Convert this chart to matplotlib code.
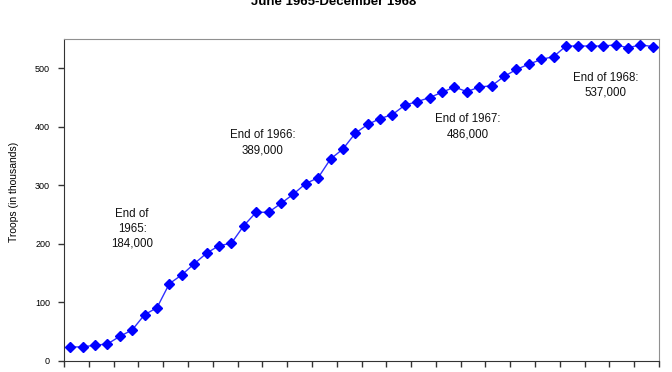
import numpy as np
import matplotlib.pyplot as plt

plt.rcParams['font.family'] = ['Liberation Sans', 'DejaVu Sans']

# monthly troop levels, Jan 1965 - Dec 1968 (thousands)
troops = [24, 24, 27, 29, 42, 53, 79, 91, 132, 147, 166, 184,
          197, 201, 231, 254, 254, 269, 285, 303, 313, 345, 362, 389,
          404, 414, 421, 437, 443, 450, 459, 468, 460, 468, 470, 486,
          498, 507, 515, 520, 538, 538, 538, 538, 540, 535, 540, 537]
months = np.arange(len(troops))

notes = ["End of\n1965:\n184,000", "End of 1966:\n389,000",
         "End of 1967:\n486,000", "End of 1968:\n537,000"]
note_x = [5.0, 15.5, 32.1, 43.2]
note_y = [226, 373, 400, 471]

fig = plt.figure(figsize=(6.72, 3.72), dpi=100)
ax = fig.add_axes([0.0952, 0.0296, 0.8855, 0.8656])

ax.plot(months, troops, color='#3030ff', linewidth=1,
        marker='D', markersize=4.6, markerfacecolor='#0000ff',
        markeredgecolor='#0000ff')

for txt, x, y in zip(notes, note_x, note_y):
    ax.text(x, y, txt, ha='center', va='center', fontsize=8.3,
            linespacing=1.35, color='#111111')

ax.set_xlim(-0.5, len(troops) - 0.5)
ax.set_ylim(0, 550)
ax.set_xticks(np.arange(-0.5, len(troops), 2))
ax.set_xticklabels([])
ax.set_yticks(range(0, 600, 100))
ax.tick_params(axis='both', direction='out', length=4, width=1,
               labelsize=6.5, color='#333333')
ax.tick_params(axis='y', pad=6)

for s in ['top', 'right']:
    ax.spines[s].set_color('#909090')
for s in ['left', 'bottom']:
    ax.spines[s].set_color('#333333')

ax.set_ylabel('Troops (in thousands)', fontsize=7.5)
ax.yaxis.set_label_coords(-0.0756, 0.525)

fig.text(0.497, 0.995, 'June 1965-December 1968', ha='center', va='center',
         fontsize=9.5, fontweight='bold')

fig.savefig('out.png', dpi=100)
